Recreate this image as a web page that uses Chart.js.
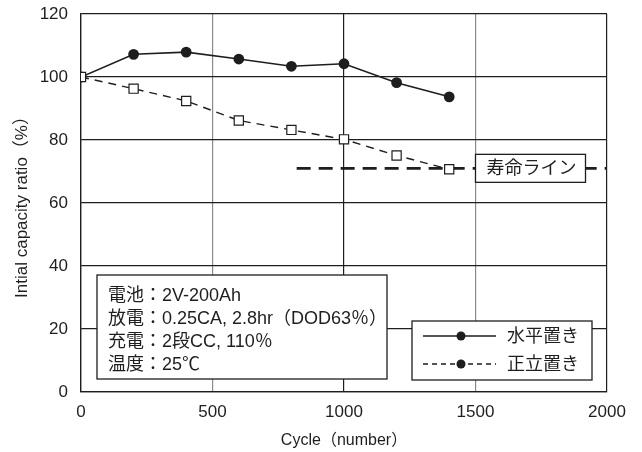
<!DOCTYPE html>
<html>
<head>
<meta charset="utf-8">
<style>
  html, body { margin: 0; padding: 0; background: #fff; }
  #wrap { width: 642px; height: 452px; }
</style>
<script src="https://cdn.jsdelivr.net/npm/chart.js@4/dist/chart.umd.min.js"></script>
</head>
<body>
<div id="wrap"><canvas id="cycleChart" width="642" height="452"></canvas></div>
<script>
// cycle counts and capacity ratio (%) per mounting orientation
const cycles = [0, 200, 400, 600, 800, 1000, 1200, 1400];
const horizontal = [100, 107.2, 107.9, 105.7, 103.4, 104.2, 98.2, 93.7];
const upright = [100, 96.3, 92.4, 86.2, 83.2, 80.2, 75.1, 70.7];

// life line (寿命ライン)
const lifeLineX = [820, 2000];
const lifeLineY = 71;

const xTicks = [0, 500, 1000, 1500, 2000];
const yTicks = [0, 20, 40, 60, 80, 100, 120];

const seriesNames = ['水平置き', '正立置き'];
const lifeLabel = '寿命ライン';
const conditions = [
  '電池：2V-200Ah',
  '放電：0.25CA, 2.8hr（DOD63％）',
  '充電：2段CC, 110％',
  '温度：25℃'
];

const ink = '#1e1e1e';
const latin = '"Liberation Sans", Arial, sans-serif';
const mixed = '"Liberation Sans", "Noto Sans CJK JP", sans-serif';

const toPoints = (xs, ys) => xs.map((x, i) => ({ x: x, y: ys[i] }));

// boxes and legend drawn on top of the plot
const overlay = {
  id: 'overlay',
  afterDraw(chart) {
    const { ctx, chartArea: area, scales: { x, y } } = chart;
    ctx.save();
    ctx.lineWidth = 1.3;
    ctx.strokeStyle = ink;
    ctx.fillStyle = ink;
    ctx.textBaseline = 'middle';

    // label box on the life line
    ctx.font = '18px ' + mixed;
    const ly = y.getPixelForValue(lifeLineY);
    const lx = x.getPixelForValue(1500);
    const lw = ctx.measureText(lifeLabel).width + 20;
    ctx.fillStyle = '#fff';
    ctx.fillRect(lx, ly - 14, lw, 28);
    ctx.strokeRect(lx, ly - 14, lw, 28);
    ctx.fillStyle = ink;
    ctx.fillText(lifeLabel, lx + 11, ly + 1);

    // test conditions
    const cx = area.left + 16, cb = area.bottom - 13;
    ctx.fillStyle = '#fff';
    ctx.fillRect(cx, cb - 104, 290, 104);
    ctx.strokeRect(cx, cb - 104, 290, 104);
    ctx.fillStyle = ink;
    ctx.font = '18px ' + mixed;
    conditions.forEach((t, i) => ctx.fillText(t, cx + 11, cb - 83 + i * 23));

    // legend
    const gr = area.right - 15, gb = area.bottom - 12;
    const gx = gr - 180, gy = gb - 59;
    ctx.fillStyle = '#fff';
    ctx.fillRect(gx, gy, 180, 59);
    ctx.strokeRect(gx, gy, 180, 59);
    const rows = [gy + 15, gy + 43];
    rows.forEach((ry, i) => {
      ctx.beginPath();
      ctx.lineWidth = 1.6;
      ctx.setLineDash(i === 0 ? [] : [5, 4]);
      ctx.moveTo(gx + 11, ry);
      ctx.lineTo(gx + 84, ry);
      ctx.stroke();
      ctx.setLineDash([]);
      ctx.beginPath();
      ctx.fillStyle = ink;
      ctx.arc(gx + 49, ry, 4.5, 0, Math.PI * 2);
      ctx.fill();
      ctx.font = '18px ' + mixed;
      ctx.fillText(seriesNames[i], gx + 95, ry + 1);
    });
    ctx.restore();
  }
};

new Chart(document.getElementById('cycleChart'), {
  type: 'line',
  data: {
    datasets: [
      {
        label: seriesNames[0],
        data: toPoints(cycles, horizontal),
        borderColor: ink,
        borderWidth: 1.6,
        pointStyle: 'circle',
        pointRadius: 4.6,
        pointBackgroundColor: ink,
        pointBorderColor: ink,
        order: 2
      },
      {
        label: seriesNames[1],
        data: toPoints(cycles, upright),
        borderColor: ink,
        borderWidth: 1.4,
        borderDash: [8, 6],
        pointStyle: 'rect',
        pointRadius: 6.5,
        pointBackgroundColor: '#fff',
        pointBorderColor: ink,
        pointBorderWidth: 1.2,
        order: 1
      },
      {
        label: lifeLabel,
        data: lifeLineX.map(v => ({ x: v, y: lifeLineY })),
        borderColor: ink,
        borderWidth: 2.6,
        borderDash: [14, 8],
        pointRadius: 0,
        order: 3
      }
    ]
  },
  options: {
    responsive: false,
    animation: false,
    events: [],
    layout: { padding: { top: 14, right: 35, left: 0, bottom: 0 } },
    plugins: {
      legend: { display: false },
      tooltip: { enabled: false }
    },
    scales: {
      x: {
        type: 'linear',
        min: 0,
        max: 2000,
        afterFit: s => { s.height = 60; },
        afterBuildTicks: s => { s.ticks = xTicks.map(v => ({ value: v })); },
        ticks: { color: ink, padding: 10, callback: v => String(v), font: { family: latin, size: 17 } },
        grid: {
          drawTicks: false,
          lineWidth: 1.2,
          color: c => (c.tick && c.tick.value === 500) || (c.tick && c.tick.value === 1500) ? '#8a8a8a' : ink
        },
        border: { color: ink, width: 1.3 },
        title: {
          display: true,
          text: 'Cycle（number）',
          color: ink,
          padding: { top: 0, bottom: 2 },
          font: { family: mixed, size: 16 }
        }
      },
      y: {
        min: 0,
        max: 120,
        afterFit: s => { s.width = 81; s.paddingTop = 0; s.paddingBottom = 0; },
        afterBuildTicks: s => { s.ticks = yTicks.map(v => ({ value: v })); },
        ticks: { color: ink, padding: 13, callback: v => String(v), font: { family: latin, size: 17 } },
        grid: { drawTicks: false, lineWidth: 1.2, color: ink },
        border: { color: ink, width: 1.3 },
        title: {
          display: true,
          text: 'Intial capacity ratio（%）',
          color: ink,
          padding: { top: 12, bottom: 0 },
          font: { family: mixed, size: 17 }
        }
      }
    }
  },
  plugins: [overlay]
});
</script>
</body>
</html>
